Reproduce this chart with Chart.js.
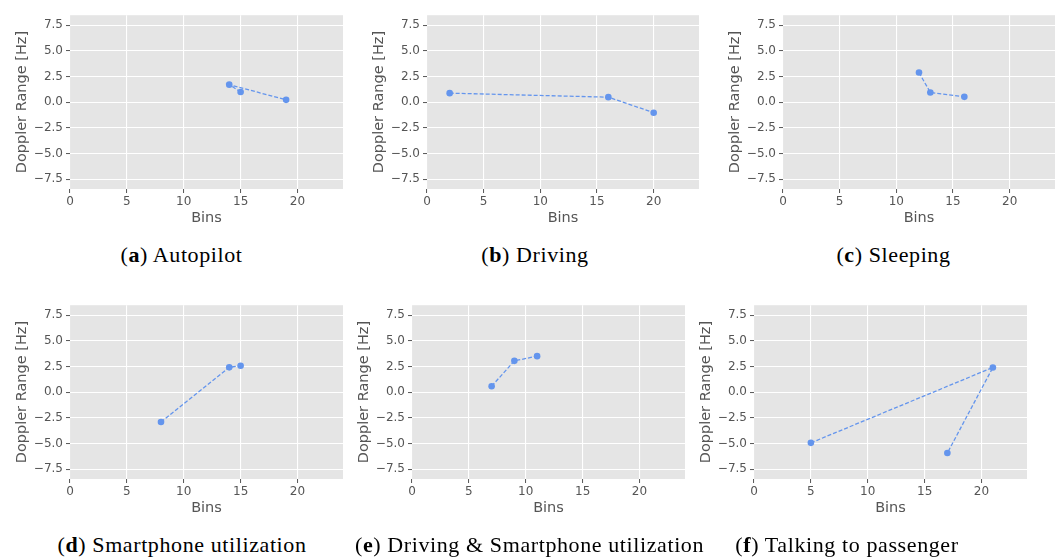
<!DOCTYPE html>
<html><head><meta charset="utf-8">
<script src="https://cdn.jsdelivr.net/npm/chart.js@4"></script>
<style>
body{margin:0;background:#fff;width:1059px;height:559px;overflow:hidden;position:relative;}
canvas.pc{position:absolute;}
.cap{position:absolute;font-family:"Liberation Serif",serif;font-size:22px;line-height:22px;letter-spacing:0.6px;color:#000;white-space:nowrap;transform:translateX(-50%);}
</style></head><body>
<script>
// ---- data ----
const xTicks = [0, 5, 10, 15, 20];
const yTicks = [-7.5, -5, -2.5, 0, 2.5, 5, 7.5];
const xRange = [0, 24];
const yRange = [-8.46, 8.46];
const letters = ['a', 'b', 'c', 'd', 'e', 'f'];
const captions = ['Autopilot', 'Driving', 'Sleeping', 'Smartphone utilization', 'Driving & Smartphone utilization', 'Talking to passenger'];
const binsA = [15, 14, 19],  dopA = [0.99, 1.70, 0.22];
const binsB = [2, 16, 20],   dopB = [0.87, 0.48, -1.03];
const binsC = [12, 13, 16],  dopC = [2.88, 0.93, 0.51];
const binsD = [8, 14, 15],   dopD = [-2.91, 2.41, 2.56];
const binsE = [7, 9, 11],    dopE = [0.57, 3.04, 3.50];
const binsF = [5, 21, 17],   dopF = [-4.94, 2.40, -5.93];
const seriesX = [binsA, binsB, binsC, binsD, binsE, binsF];
const seriesY = [dopA, dopB, dopC, dopD, dopE, dopF];

// ---- layout ----
const plotBoxes = [[70,13,273,176],[427,13,272,176],[783,13,272,176],[70,303,273,176],[412,303,273,176],[754,303,273,176]];
const capPos = [[181.5,262],[535,262],[893.5,262],[182,552],[529.5,552],[847,552]];
const PADL = 70, PADT = 8, PADR = 4, XAXH = 50;

const bgPlugin = {
  id: 'bg',
  beforeDraw(chart) {
    const {ctx, chartArea: a} = chart;
    ctx.save();
    ctx.fillStyle = '#E5E5E5';
    ctx.fillRect(a.left, a.top, a.right - a.left, a.bottom - a.top);
    ctx.restore();
  }
};

const tickFont = {family: "'DejaVu Sans'", size: 12};
const titleFont = {family: "'DejaVu Sans'", size: 14.5};

plotBoxes.forEach((b, i) => {
  const [x0, y0, w, h] = b;
  const cv = document.createElement('canvas');
  cv.className = 'pc';
  cv.width = w + PADL + PADR;
  cv.height = h + PADT + XAXH;
  cv.style.left = (x0 - PADL) + 'px';
  cv.style.top = (y0 - PADT) + 'px';
  document.body.appendChild(cv);
  const pts = seriesX[i].map((x, k) => ({x: x, y: seriesY[i][k]}));
  new Chart(cv, {
    type: 'scatter',
    data: {datasets: [{
      data: pts, showLine: true, borderColor: '#6495ED', backgroundColor: '#6495ED',
      borderWidth: 1.3, borderDash: [4, 2], pointRadius: 3.3, pointBorderWidth: 0,
      pointHoverRadius: 3.3, tension: 0
    }]},
    options: {
      responsive: false, animation: false, events: [],
      layout: {padding: {top: PADT, right: PADR, left: 0, bottom: 0}},
      plugins: {legend: {display: false}, tooltip: {enabled: false}},
      scales: {
        x: {
          type: 'linear', min: xRange[0], max: xRange[1],
          afterBuildTicks: s => { s.ticks = xTicks.map(v => ({value: v})); },
          afterFit: s => { s.height = XAXH; },
          grid: {color: '#FFFFFF', lineWidth: 1.1, tickColor: '#555555', tickLength: 4, tickWidth: 1},
          border: {display: false},
          ticks: {color: '#555555', font: tickFont, padding: 2, maxRotation: 0, autoSkip: false, callback: v => String(v)},
          title: {display: true, text: 'Bins', color: '#555555', font: titleFont, padding: {top: 0, bottom: 12}}
        },
        y: {
          type: 'linear', min: yRange[0], max: yRange[1],
          afterBuildTicks: s => { s.ticks = yTicks.map(v => ({value: v})); },
          afterFit: s => { s.width = PADL; },
          grid: {color: '#FFFFFF', lineWidth: 1.1, tickColor: '#555555', tickLength: 4, tickWidth: 1},
          border: {display: false},
          ticks: {color: '#555555', font: tickFont, padding: 3, autoSkip: false,
            callback: v => (v < 0 ? '\u2212' : '') + Math.abs(v).toFixed(1)},
          title: {display: true, text: 'Doppler Range [Hz]', color: '#555555', font: titleFont, padding: {top: 14, bottom: 0}}
        }
      }
    },
    plugins: [bgPlugin]
  });
  const cap = document.createElement('div');
  cap.className = 'cap';
  cap.style.left = capPos[i][0] + 'px';
  cap.style.top = (capPos[i][1] - 18.4) + 'px';
  cap.innerHTML = '(<b>' + letters[i] + '</b>) ' + captions[i].replace('&', '&amp;');
  document.body.appendChild(cap);
});
</script>
</body></html>
